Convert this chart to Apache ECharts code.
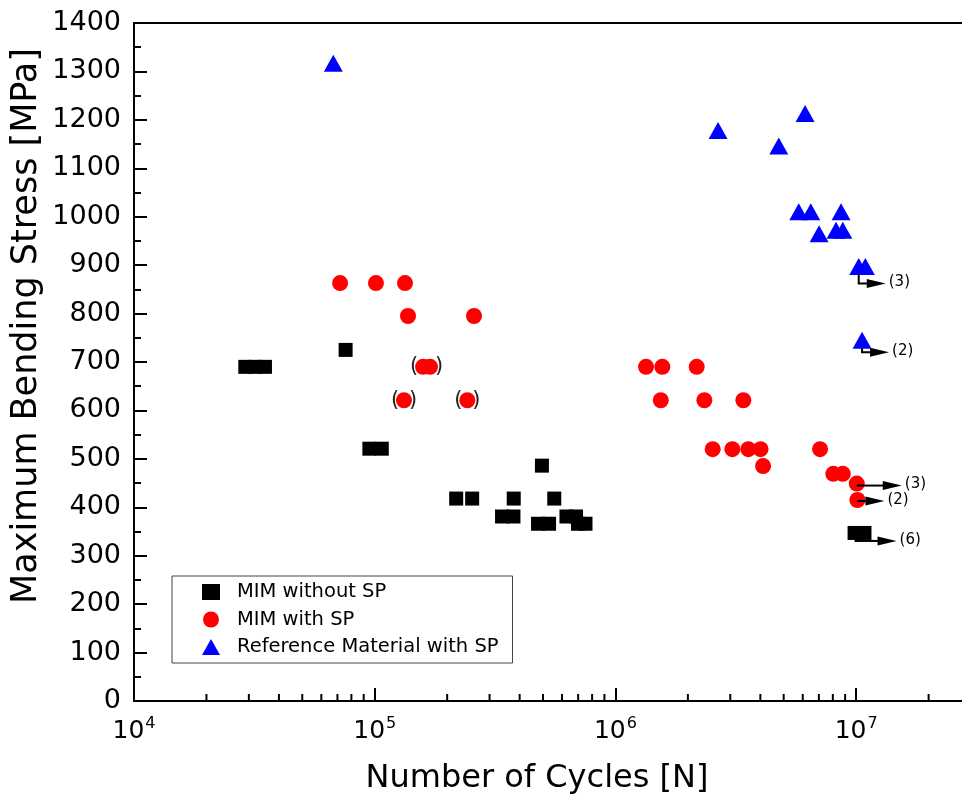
<!DOCTYPE html>
<html>
<head>
<meta charset="utf-8">
<script src="https://cdn.jsdelivr.net/npm/echarts@6/dist/echarts.min.js"></script>
<style>
html,body{margin:0;padding:0;background:#fff;}
#chart{width:962px;height:803px;}
</style>
</head>
<body>
<div id="chart"></div>
<script>
// ---------------- data ----------------
const seriesNames = ['MIM without SP', 'MIM with SP', 'Reference Material with SP'];

// [cycles N, max bending stress MPa]
const mimWithoutSP = [
  [29000, 690], [32000, 690], [35000, 690],
  [75700, 725],
  [95000, 521], [107000, 521],
  [218000, 418], [254000, 418], [378000, 418], [557000, 418],
  [495000, 486],
  [338000, 381], [377000, 381], [626000, 381], [686000, 381],
  [477000, 366], [530000, 366], [699000, 366], [751000, 366],
  [9850000, 347], [10830000, 347]
];

const mimWithSP = [
  [71800, 863], [101200, 863], [133600, 863],
  [137500, 795], [258500, 795],
  [158800, 690], [169700, 690],
  [132300, 621], [242500, 621],
  [1340000, 690], [1566000, 690], [2176000, 690],
  [1543000, 621], [2341000, 621], [3399000, 621],
  [2536000, 520], [3060000, 520], [3565000, 520], [4007000, 520], [7080000, 520],
  [4105000, 485],
  [8040000, 469], [8800000, 469],
  [10060000, 449], [10120000, 415]
];

const referenceWithSP = [
  [67300, 1317],
  [2669000, 1178], [6135000, 1213], [4770000, 1146],
  [5775000, 1010], [6478000, 1010], [8655000, 1010],
  [7016000, 965], [8250000, 972], [8800000, 972],
  [10250000, 897], [10920000, 897],
  [10580000, 745]
];

// run-outs: [N, stress, number of specimens]
const runouts = [
  [10250000, 897, 3],
  [10580000, 745, 2],
  [10060000, 449, 3],
  [10120000, 415, 2],
  [9850000, 347, 6]
];

// points written in parentheses: [N first, stress, N last]
const bracketed = [
  [132300, 621, 132300],
  [242500, 621, 242500],
  [158800, 690, 169700]
];

// axis ticks
const yMin = 0, yMax = 1400, yStep = 100;
const xMin = 1e4, xMax = 3e7;
const xMinorTicks = [
  2e4, 3e4, 4e4, 5e4, 6e4, 7e4, 8e4, 9e4,
  2e5, 3e5, 4e5, 5e5, 6e5, 7e5, 8e5, 9e5,
  2e6, 3e6, 4e6, 5e6, 6e6, 7e6, 8e6, 9e6,
  2e7
];

// ---------------- styling ----------------
const FONT = '"DejaVu Sans", "Liberation Sans", sans-serif';
// pixel geometry of the run-out arrows (drop below the marker, arrow length)
const runoutGeom = [
  {drop: 17, len: 27},
  {drop: 12, len: 27},
  {drop: 2,  len: 45},
  {drop: 1,  len: 27},
  {drop: 8,  len: 42}
];

const chart = echarts.init(document.getElementById('chart'), null, {renderer: 'canvas'});

const option = {
  animation: false,
  backgroundColor: '#fff',
  grid: {
    left: 134, top: 23, right: -9, bottom: 102,
    show: true, borderColor: '#000', borderWidth: 2,
    containLabel: false, outerBoundsMode: 'none'
  },
  legend: {
    orient: 'vertical',
    left: 172, top: 576,
    data: seriesNames,
    selectedMode: false,
    itemWidth: 18, itemHeight: 16, itemGap: 7.5,
    padding: [6, 14, 6, 30],
    borderColor: '#444', borderWidth: 1,
    textStyle: {fontFamily: FONT, fontSize: 19.5, color: '#000', lineHeight: 20, padding: [0, 0, 0, 12]}
  },
  xAxis: {
    type: 'log', logBase: 10, min: xMin, max: xMax,
    name: 'Number of Cycles [N]',
    nameLocation: 'middle', nameGap: 62,
    nameTextStyle: {fontFamily: FONT, fontSize: 32, color: '#000', padding: [0, 31, 0, 0]},
    axisLine: {show: true, lineStyle: {color: '#000', width: 2}},
    axisTick: {show: true, inside: true, length: 13, lineStyle: {color: '#000', width: 2}},
    minorTick: {show: false},
    splitLine: {show: false},
    axisLabel: {
      margin: 15,
      color: '#000',
      formatter: function (v) {
        const e = Math.log10(v);
        if (Math.abs(e - Math.round(e)) > 1e-6) return '';
        return '{b|10}{s|' + Math.round(e) + '}';
      },
      rich: {
        b: {fontFamily: FONT, fontSize: 25, lineHeight: 30, color: '#000'},
        s: {fontFamily: FONT, fontSize: 16, lineHeight: 16, verticalAlign: 'top', color: '#000', padding: [0, 0, 0, 1]}
      }
    }
  },
  yAxis: {
    type: 'value', min: yMin, max: yMax, interval: yStep,
    axisLine: {show: true, lineStyle: {color: '#000', width: 2}},
    axisTick: {show: true, inside: true, length: 13, lineStyle: {color: '#000', width: 2}},
    minorTick: {show: true, splitNumber: 2, length: 7, lineStyle: {color: '#000', width: 2}},
    splitLine: {show: false},
    axisLabel: {fontFamily: FONT, fontSize: 27, color: '#000', margin: 13,
                formatter: function (v) { return String(v); }}
  },
  graphic: [{
    type: 'text',
    x: 27, y: 326,
    rotation: Math.PI / 2,
    style: {
      text: 'Maximum Bending Stress [MPa]',
      font: '35px ' + FONT,
      fill: '#000', align: 'center', verticalAlign: 'middle'
    }
  }],
  series: [
    {
      name: seriesNames[0], type: 'scatter', data: mimWithoutSP,
      symbol: 'rect', symbolSize: 14,
      itemStyle: {color: '#000', opacity: 1}, z: 3
    },
    {
      name: seriesNames[1], type: 'scatter', data: mimWithSP,
      symbol: 'circle', symbolSize: 16,
      itemStyle: {color: '#ff0000', opacity: 1}, z: 3
    },
    {
      name: seriesNames[2], type: 'scatter', data: referenceWithSP,
      symbol: 'triangle', symbolSize: [19, 17],
      itemStyle: {color: '#0000ff', opacity: 1}, z: 3
    },
    {
      name: 'minorTicks', type: 'custom', silent: true, clip: false, z: 4,
      data: xMinorTicks.map(v => [v, yMin]),
      renderItem: function (params, api) {
        const p = api.coord([api.value(0), yMin]);
        return {type: 'line', shape: {x1: p[0], y1: p[1], x2: p[0], y2: p[1] - 7},
                style: {stroke: '#000', lineWidth: 2}};
      }
    },
    {
      name: 'brackets', type: 'custom', silent: true, clip: false, z: 4,
      data: bracketed,
      renderItem: function (params, api) {
        const a = api.coord([api.value(0), api.value(1)]);
        const b = api.coord([api.value(2), api.value(1)]);
        const st = {font: '21px ' + FONT, fill: '#222', align: 'center', verticalAlign: 'middle'};
        return {type: 'group', children: [
          {type: 'text', x: a[0] - 9, y: a[1], style: Object.assign({text: '('}, st)},
          {type: 'text', x: b[0] + 9, y: b[1], style: Object.assign({text: ')'}, st)}
        ]};
      }
    },
    {
      name: 'runouts', type: 'custom', silent: true, clip: false, z: 5,
      data: runouts,
      renderItem: function (params, api) {
        const g = runoutGeom[params.dataIndex];
        const p = api.coord([api.value(0), api.value(1)]);
        const x0 = p[0], ya = p[1] + g.drop, xe = p[0] + g.len;
        const head = 19;
        return {type: 'group', children: [
          {type: 'polyline', shape: {points: [[x0, p[1] + Math.min(g.drop, 8)], [x0, ya], [xe - head + 2, ya]]},
           style: {stroke: '#000', lineWidth: 2, fill: null}},
          {type: 'polygon', shape: {points: [[xe - head, ya - 4.5], [xe, ya], [xe - head, ya + 4.5]]},
           style: {fill: '#000'}},
          {type: 'text', x: xe + 3, y: ya - 1,
           style: {text: '(' + api.value(2) + ')', font: '15px ' + FONT, fill: '#000', align: 'left', verticalAlign: 'middle'}}
        ]};
      }
    }
  ]
};

chart.setOption(option);
</script>
</body>
</html>
